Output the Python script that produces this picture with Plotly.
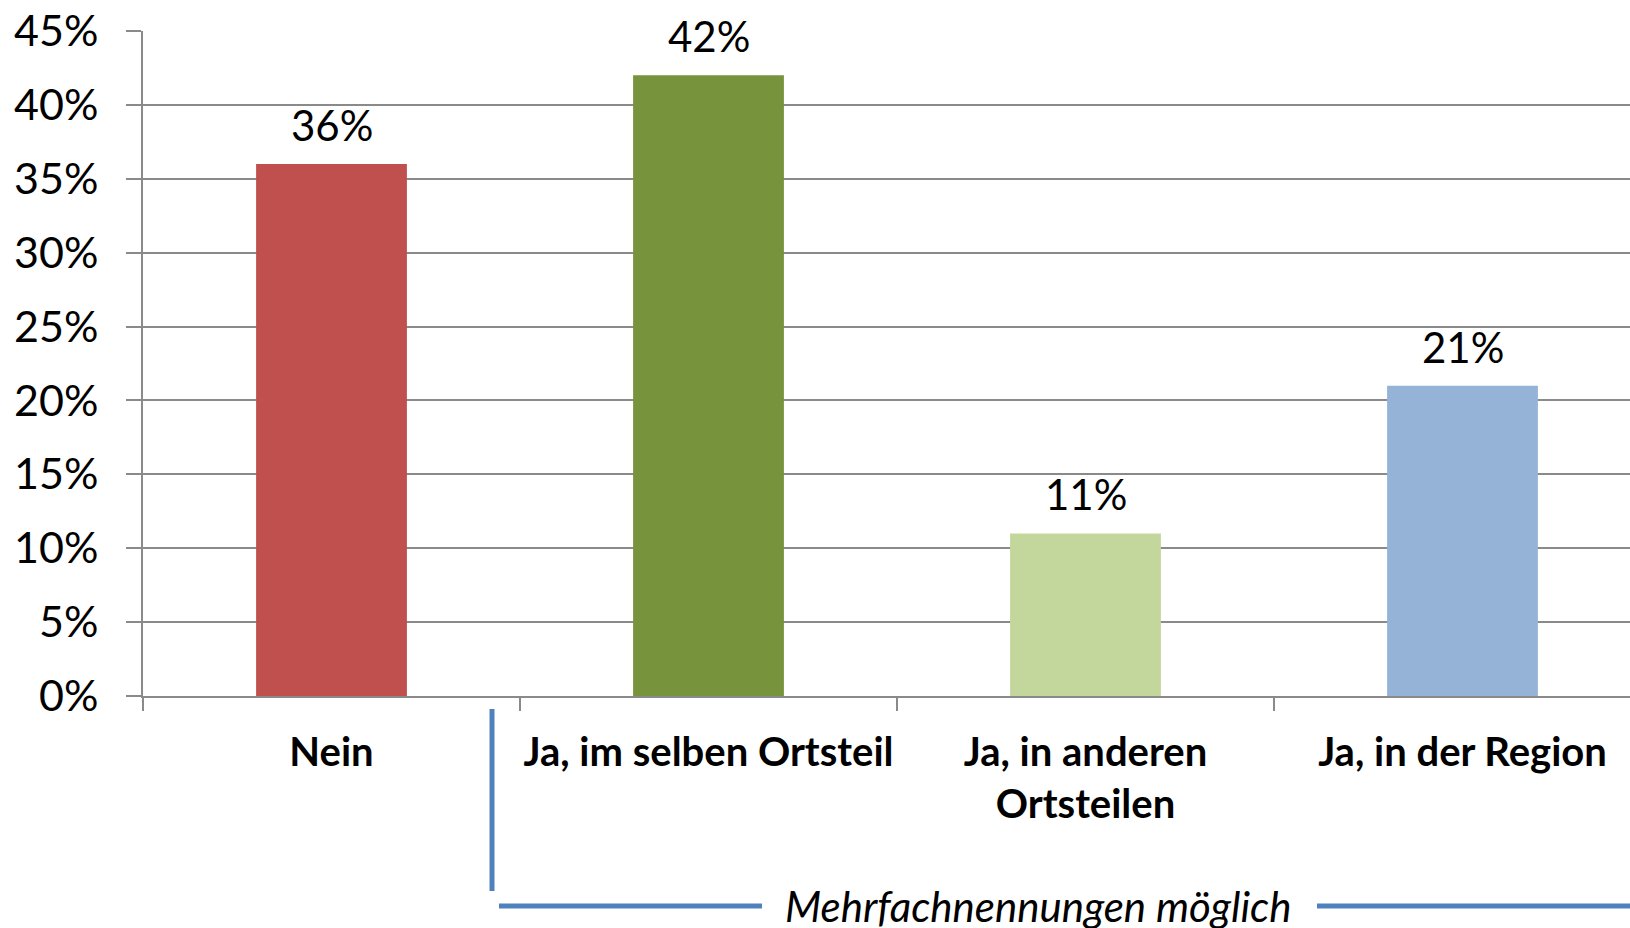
import plotly.graph_objects as go

categories = ["Nein", "Ja, im selben Ortsteil", "Ja, in anderen<br>Ortsteilen", "Ja, in der Region"]
values = [36, 42, 11, 21]
colors = ["#C0504D", "#77933C", "#C3D69B", "#95B3D7"]
note_text = "Mehrfachnennungen möglich"

W, H = 1630, 928
ML, MR, MT, MB = 143, 0, 31, 232
PW = W - ML - MR
PH = H - MT - MB

def px_x(p):
    return (p - ML) / PW

def px_y(p):
    return (H - MB - p) / PH

GRID = "#8A8A8A"
BLUE = "#4F81BD"
FONT = "Lato"

fig = go.Figure()
fig.add_trace(go.Bar(
    x=categories, y=values, marker=dict(color=colors, line=dict(width=0)),
    width=0.4, hoverinfo="skip", cliponaxis=False,
))

for c, v in zip(categories, values):
    fig.add_annotation(x=c, y=v, xref="x", yref="y", text=f"{v}%", showarrow=False,
                       yanchor="bottom", yshift=12,
                       font=dict(family=FONT, size=42, color="black"))

# bracket decoration
fig.add_shape(type="line", xref="paper", yref="paper",
              x0=px_x(492), x1=px_x(492), y0=px_y(709), y1=px_y(891),
              line=dict(color=BLUE, width=5))
fig.add_shape(type="line", xref="paper", yref="paper",
              x0=px_x(499), x1=px_x(762), y0=px_y(906), y1=px_y(906),
              line=dict(color=BLUE, width=5))
fig.add_shape(type="line", xref="paper", yref="paper",
              x0=px_x(1317), x1=1.0, y0=px_y(906), y1=px_y(906),
              line=dict(color=BLUE, width=5))
fig.add_annotation(xref="paper", yref="paper", x=px_x(1038), y=px_y(906),
                   text=note_text, showarrow=False, xanchor="center", yanchor="middle",
                   font=dict(family=FONT, size=42, color="black", style="italic"))

fig.update_layout(
    width=W, height=H, autosize=False,
    margin=dict(l=ML, r=MR, t=MT, b=MB, pad=0, autoexpand=False),
    plot_bgcolor="white", paper_bgcolor="white",
    showlegend=False, bargap=0.6,
    font=dict(family=FONT, color="black"),
)
fig.update_xaxes(
    type="category", range=[-0.5, -0.5 + PW / 377.0],
    tickson="boundaries", ticks="outside", ticklen=13, tickwidth=1.5, tickcolor=GRID,
    showline=True, linecolor=GRID, linewidth=2, showgrid=False,
    tickfont=dict(family=FONT, size=40, color="black", weight="bold"),
    ticklabelstandoff=20, tickangle=0, automargin=False,
)
fig.update_yaxes(
    range=[0, 45], dtick=5, tick0=0, ticksuffix="%",
    showgrid=True, gridcolor=GRID, gridwidth=1.5,
    ticks="outside", ticklen=15, tickwidth=1.5, tickcolor=GRID,
    showline=True, linecolor=GRID, linewidth=2, zeroline=False,
    tickfont=dict(family=FONT, size=43, color="black"),
    ticklabelstandoff=19, automargin=False,
)

fig.write_html("out.html", config={"displayModeBar": False, "responsive": False},
               post_script="document.body.style.margin='0';document.body.style.overflow='hidden';")
